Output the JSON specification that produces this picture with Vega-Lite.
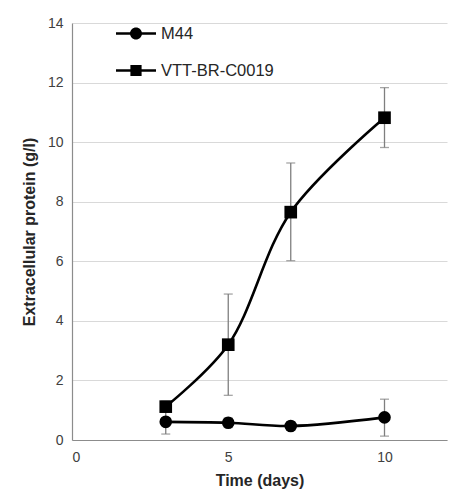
{
  "$schema": "https://vega.github.io/schema/vega-lite/v6.json",
  "autosize": "none",
  "width": 375,
  "height": 417,
  "padding": {"left": 72, "top": 23, "right": 22, "bottom": 49},
  "background": "white",
  "config": {
    "font": "Liberation Sans",
    "view": {"stroke": null},
    "axis": {
      "labelFont": "Liberation Sans",
      "labelFontSize": 14,
      "labelColor": "#404040",
      "titleFont": "Liberation Sans",
      "titleFontWeight": "bold",
      "titleColor": "#262626",
      "domainColor": "#8c8c8c",
      "domainWidth": 1.2,
      "gridColor": "#d9d9d9",
      "gridWidth": 1,
      "ticks": false
    }
  },
  "data": {
    "values": [
      {"series": "M44", "day": 3, "value": 0.61, "lo": 0.2, "hi": 1.02},
      {"series": "M44", "day": 5, "value": 0.58, "lo": 0.42, "hi": 0.74},
      {"series": "M44", "day": 7, "value": 0.47, "lo": 0.33, "hi": 0.61},
      {"series": "M44", "day": 10, "value": 0.76, "lo": 0.13, "hi": 1.37},
      {"series": "VTT-BR-C0019", "day": 3, "value": 1.12, "lo": 0.95, "hi": 1.3},
      {"series": "VTT-BR-C0019", "day": 5, "value": 3.2, "lo": 1.5, "hi": 4.9},
      {"series": "VTT-BR-C0019", "day": 7, "value": 7.65, "lo": 6.02, "hi": 9.3},
      {"series": "VTT-BR-C0019", "day": 10, "value": 10.82, "lo": 9.82, "hi": 11.83}
    ]
  },
  "encoding": {
    "x": {
      "field": "day",
      "type": "quantitative",
      "scale": {"domain": [0, 12], "nice": false},
      "axis": {
        "values": [0, 5, 10],
        "grid": false,
        "title": "Time (days)",
        "titleFontSize": 16,
        "labelPadding": 10,
        "titlePadding": 8
      }
    }
  },
  "layer": [
    {
      "mark": {"type": "errorbar", "color": "#7f7f7f", "thickness": 1.3, "ticks": {"size": 9, "color": "#7f7f7f", "thickness": 1.3}},
      "encoding": {
        "y": {
          "field": "lo",
          "type": "quantitative",
          "scale": {"domain": [0, 14], "nice": false},
          "axis": {
            "values": [0, 2, 4, 6, 8, 10, 12, 14],
            "title": "Extracellular protein (g/l)",
            "titleFontSize": 16,
            "labelPadding": 9,
            "titlePadding": 10
          }
        },
        "y2": {"field": "hi"},
        "detail": {"field": "series"}
      }
    },
    {
      "mark": {"type": "line", "interpolate": "catmull-rom", "color": "black", "strokeWidth": 2.6},
      "encoding": {
        "y": {"field": "value", "type": "quantitative"},
        "detail": {"field": "series"}
      }
    },
    {
      "mark": {"type": "point", "filled": true, "color": "black", "opacity": 1, "size": 160},
      "encoding": {
        "y": {"field": "value", "type": "quantitative"},
        "shape": {
          "field": "series",
          "type": "nominal",
          "scale": {"domain": ["M44", "VTT-BR-C0019"], "range": ["circle", "square"]},
          "legend": null
        }
      }
    },
    {
      "transform": [{"filter": "datum.day < 0"}],
      "mark": {"type": "point", "filled": true, "color": "black", "opacity": 1},
      "encoding": {
        "y": {"field": "value", "type": "quantitative"},
        "shape": {
          "field": "series",
          "type": "nominal",
          "scale": {
            "domain": ["M44", "VTT-BR-C0019"],
            "range": [
              "M-1,-0.065H-0.2V0.065H-1ZM0.2,-0.065H1V0.065H0.2ZM0.3,0A0.3,0.3,0,1,1,-0.3,0A0.3,0.3,0,1,1,0.3,0Z",
              "M-1,-0.065H-0.2V0.065H-1ZM0.2,-0.065H1V0.065H0.2ZM-0.28,-0.28H0.28V0.28H-0.28Z"
            ]
          },
          "legend": {
            "orient": "none",
            "legendX": 43,
            "legendY": -8,
            "title": null,
            "symbolSize": 1600,
            "symbolFillColor": "black",
            "labelFont": "Liberation Sans",
            "labelFontSize": 16.5,
            "labelColor": "#262626",
            "labelOffset": 4,
            "clipHeight": 37,
            "rowPadding": 0
          }
        }
      }
    }
  ],
  "resolve": {"scale": {"shape": "independent"}}
}
